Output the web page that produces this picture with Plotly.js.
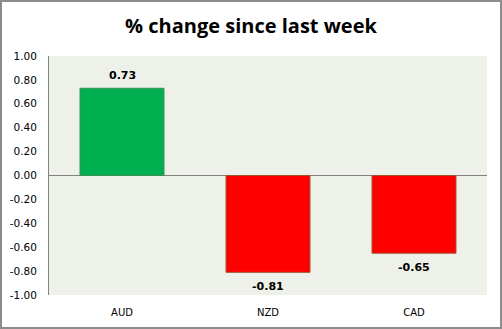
<!DOCTYPE html>
<html><head><meta charset="utf-8">
<script src="https://cdn.plot.ly/plotly-3.0.1.min.js"></script>
<style>html,body{margin:0;padding:0;background:#fff}#c{width:502px;height:329px;box-sizing:border-box;border:2px solid #8c8c8c}</style>
</head><body><div id="c"></div>
<script>
const categories = ["AUD", "NZD", "CAD"];
const values = [0.73, -0.81, -0.65];
const labels = ["0.73", "-0.81", "-0.65"];
const tickVals = [1, 0.8, 0.6, 0.4, 0.2, 0, -0.2, -0.4, -0.6, -0.8, -1];
const tickText = tickVals.map(v => v.toFixed(2));
const colors = values.map(v => v >= 0 ? "#00B050" : "#FF0000");
const edges = values.map(v => v >= 0 ? "#3b8f55" : "#a0522d");

const annotations = categories.map((c, i) => ({
  x: c, y: values[i], text: labels[i], showarrow: false,
  yshift: values[i] >= 0 ? 13 : -14,
  font: {family: "DejaVu Sans", size: 11, color: "#000", weight: "bold"}
}));

Plotly.newPlot("c", [{
  type: "bar", x: categories, y: values,
  marker: {color: colors, line: {color: edges, width: 1}},
  width: 0.575, hoverinfo: "none"
}], {
  width: 498, height: 325,
  margin: {l: 47, r: 13, t: 54, b: 32},
  paper_bgcolor: "#fff", plot_bgcolor: "#EEF1E9",
  title: {text: "% change since last week", x: 0.5, xanchor: "center", y: 0.925, yanchor: "middle",
    font: {family: "Open Sans", size: 20, color: "#000", weight: "bold"}},
  showlegend: false,
  annotations: annotations,
  xaxis: {showgrid: false, zeroline: false, showline: false, ticks: "", ticklabelstandoff: 10,
    tickfont: {family: "DejaVu Sans", size: 10, color: "#000"}},
  yaxis: {range: [-1, 1], tickvals: tickVals, ticktext: tickText, showgrid: false,
    zeroline: true, zerolinecolor: "#808080", zerolinewidth: 1, ticklabelstandoff: 9,
    showline: true, linecolor: "#808080", linewidth: 1, ticks: "",
    tickfont: {family: "DejaVu Sans", size: 10.5, color: "#000"}, fixedrange: true}
}, {displayModeBar: false, staticPlot: true});
</script></body></html>
